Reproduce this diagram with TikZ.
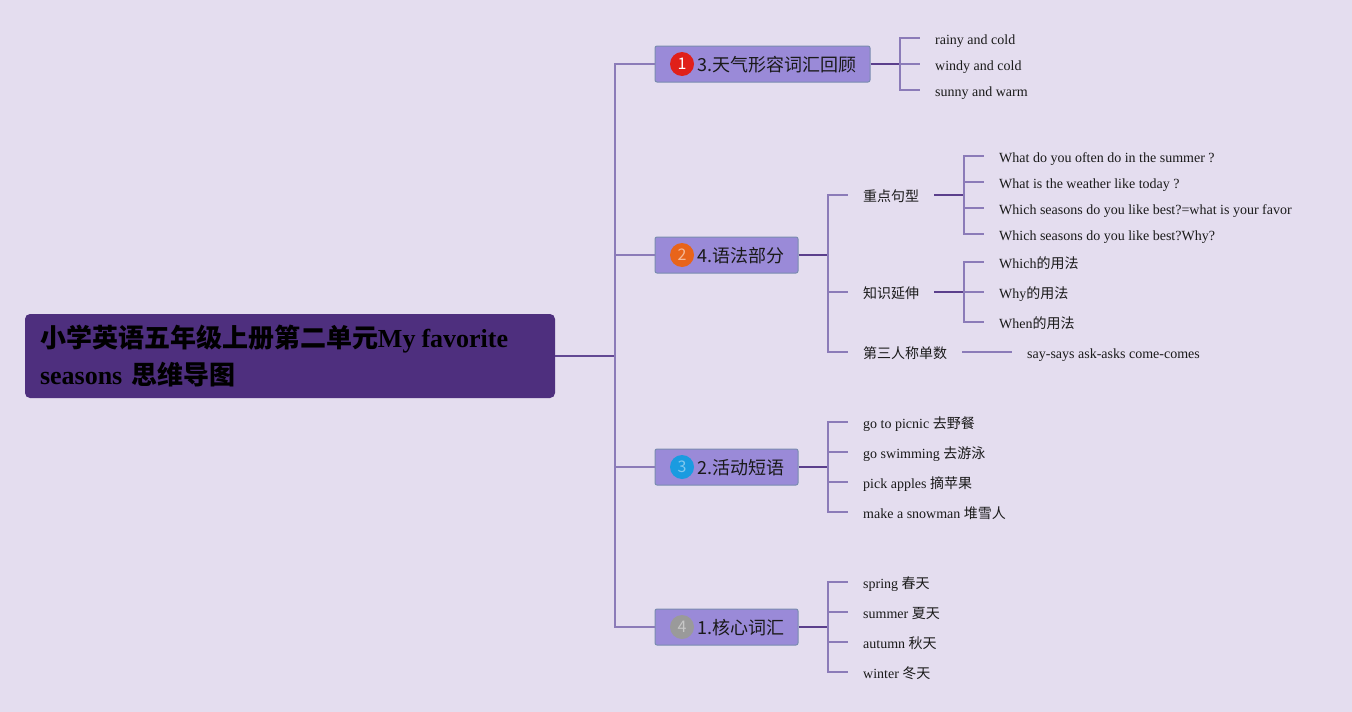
\documentclass[tikz,border=0pt]{standalone}
\usepackage{fontspec}
\setmainfont{Liberation Serif}
\newfontfamily\cjk{Noto Sans CJK SC}
\newcommand{\zh}[1]{{\cjk #1}}
\definecolor{bgc}{HTML}{E4DDEF}
\definecolor{rootc}{HTML}{4E2F7E}
\definecolor{boxc}{HTML}{9A8AD8}
\definecolor{boxb}{HTML}{7A8CB0}
\definecolor{spinec}{HTML}{8B7BB8}
\definecolor{linkc}{HTML}{5B3F8C}
\definecolor{txt}{HTML}{1A1A1A}
\definecolor{bred}{HTML}{E0201A}
\definecolor{borange}{HTML}{E8641A}
\definecolor{bblue}{HTML}{1A9BE0}
\definecolor{bgrey}{HTML}{9A9A9A}
\tikzset{
  rootbox/.style={fill=rootc, rounded corners=5pt, text width=500pt, inner xsep=15pt,
    minimum height=84pt, align=left, text=black, font=\fontsize{26}{37}\selectfont\bfseries},
  branchbox/.style={fill=boxc, draw=boxb, line width=1pt, rounded corners=2pt, minimum height=36pt, inner sep=0pt},
  btext/.style={anchor=west, inner sep=0pt, text=txt, font=\fontsize{18}{20}\selectfont\cjk},
  badge/.style={circle, minimum size=24pt, inner sep=0pt, font=\fontsize{16}{16}\selectfont\cjk},
  leaf/.style={anchor=west, inner xsep=15pt, inner ysep=2pt, text height=15pt, text depth=3pt,
    text=txt, font=\fontsize{14}{16}\selectfont},
  spine/.style={draw=spinec, line width=1.4pt},
  link/.style={draw=linkc, line width=1.8pt},
}
\begin{document}
\begin{tikzpicture}[x=1pt,y=-1pt]
\fill[bgc] (0,0) rectangle (1352,712);
\useasboundingbox (0,0) rectangle (1352,712);

% root
\node[rootbox, minimum width=530pt] (root) at (290,356) {\zh{\bfseries 小学英语五年级上册第二单元}My\hspace{6pt}favorite\\seasons \zh{\bfseries 思维导图}};
\coordinate (s0) at (615,356);

% branch boxes
\node[branchbox, minimum width=215pt] (b1) at (762.5,64) {};
\node[branchbox, minimum width=143pt] (b2) at (726.5,255) {};
\node[branchbox, minimum width=143pt] (b3) at (726.5,467) {};
\node[branchbox, minimum width=143pt] (b4) at (726.5,627) {};
\node[badge, fill=bred, text=white] (k1) at (682,64) {1};
\node[badge, fill=borange, text=borange!45!white] (k2) at (682,255) {2};
\node[badge, fill=bblue, text=bblue!55!white] (k3) at (682,467) {3};
\node[badge, fill=bgrey, text=bgrey!55!white] (k4) at (682,627) {4};
\node[btext] (t1) at (697,65) {3.天气形容词汇回顾};
\node[btext] (t2) at (697,256) {4.语法部分};
\node[btext] (t3) at (697,468) {2.活动短语};
\node[btext] (t4) at (697,628) {1.核心词汇};

% root connectors
\draw[link, draw=linkc!85!spinec] (root.east) -- (s0);
\draw[spine] (s0) |- (b1.west);
\draw[spine] (s0) |- (b2.west);
\draw[spine] (s0) |- (b3.west);
\draw[spine] (s0) |- (b4.west);

% branch 1
\node[leaf] (l11) at (920,38) {rainy and cold};
\node[leaf] (l12) at (920,64) {windy and cold};
\node[leaf] (l13) at (920,90) {sunny and warm};
\coordinate (c1) at (900,64);
\draw[link] (b1.east) -- (c1);
\foreach \n in {l11,l12,l13} \draw[spine] (c1) |- (\n.west);

% branch 2
\node[leaf] (s21) at (848,195) {\zh{重点句型}};
\node[leaf] (s22) at (848,292) {\zh{知识延伸}};
\node[leaf] (s23) at (848,352) {\zh{第三人称单数}};
\coordinate (c2) at (828,255);
\draw[link] (b2.east) -- (c2);
\foreach \n in {s21,s22,s23} \draw[spine] (c2) |- (\n.west);

\node[leaf] (l211) at (984,156) {What do you often do in the summer ?};
\node[leaf] (l212) at (984,182) {What is the weather like today ?};
\node[leaf] (l213) at (984,208) {Which seasons do you like best?=what is your favor};
\node[leaf] (l214) at (984,234) {Which seasons do you like best?Why?};
\coordinate (c21) at (964,195);
\draw[link] (s21.east) -- (c21);
\foreach \n in {l211,l212,l213,l214} \draw[spine] (c21) |- (\n.west);

\node[leaf] (l221) at (984,262) {Which\zh{的用法}};
\node[leaf] (l222) at (984,292) {Why\zh{的用法}};
\node[leaf] (l223) at (984,322) {When\zh{的用法}};
\coordinate (c22) at (964,292);
\draw[link] (s22.east) -- (c22);
\foreach \n in {l221,l222,l223} \draw[spine] (c22) |- (\n.west);

\node[leaf] (l231) at (1012,352) {say-says ask-asks come-comes};
\draw[spine] (s23.east) -- (l231.west);

% branch 3
\node[leaf] (l31) at (848,422) {go to picnic \zh{去野餐}};
\node[leaf] (l32) at (848,452) {go swimming \zh{去游泳}};
\node[leaf] (l33) at (848,482) {pick apples \zh{摘苹果}};
\node[leaf] (l34) at (848,512) {make a snowman \zh{堆雪人}};
\coordinate (c3) at (828,467);
\draw[link] (b3.east) -- (c3);
\foreach \n in {l31,l32,l33,l34} \draw[spine] (c3) |- (\n.west);

% branch 4
\node[leaf] (l41) at (848,582) {spring \zh{春天}};
\node[leaf] (l42) at (848,612) {summer \zh{夏天}};
\node[leaf] (l43) at (848,642) {autumn \zh{秋天}};
\node[leaf] (l44) at (848,672) {winter \zh{冬天}};
\coordinate (c4) at (828,627);
\draw[link] (b4.east) -- (c4);
\foreach \n in {l41,l42,l43,l44} \draw[spine] (c4) |- (\n.west);
\end{tikzpicture}
\end{document}
